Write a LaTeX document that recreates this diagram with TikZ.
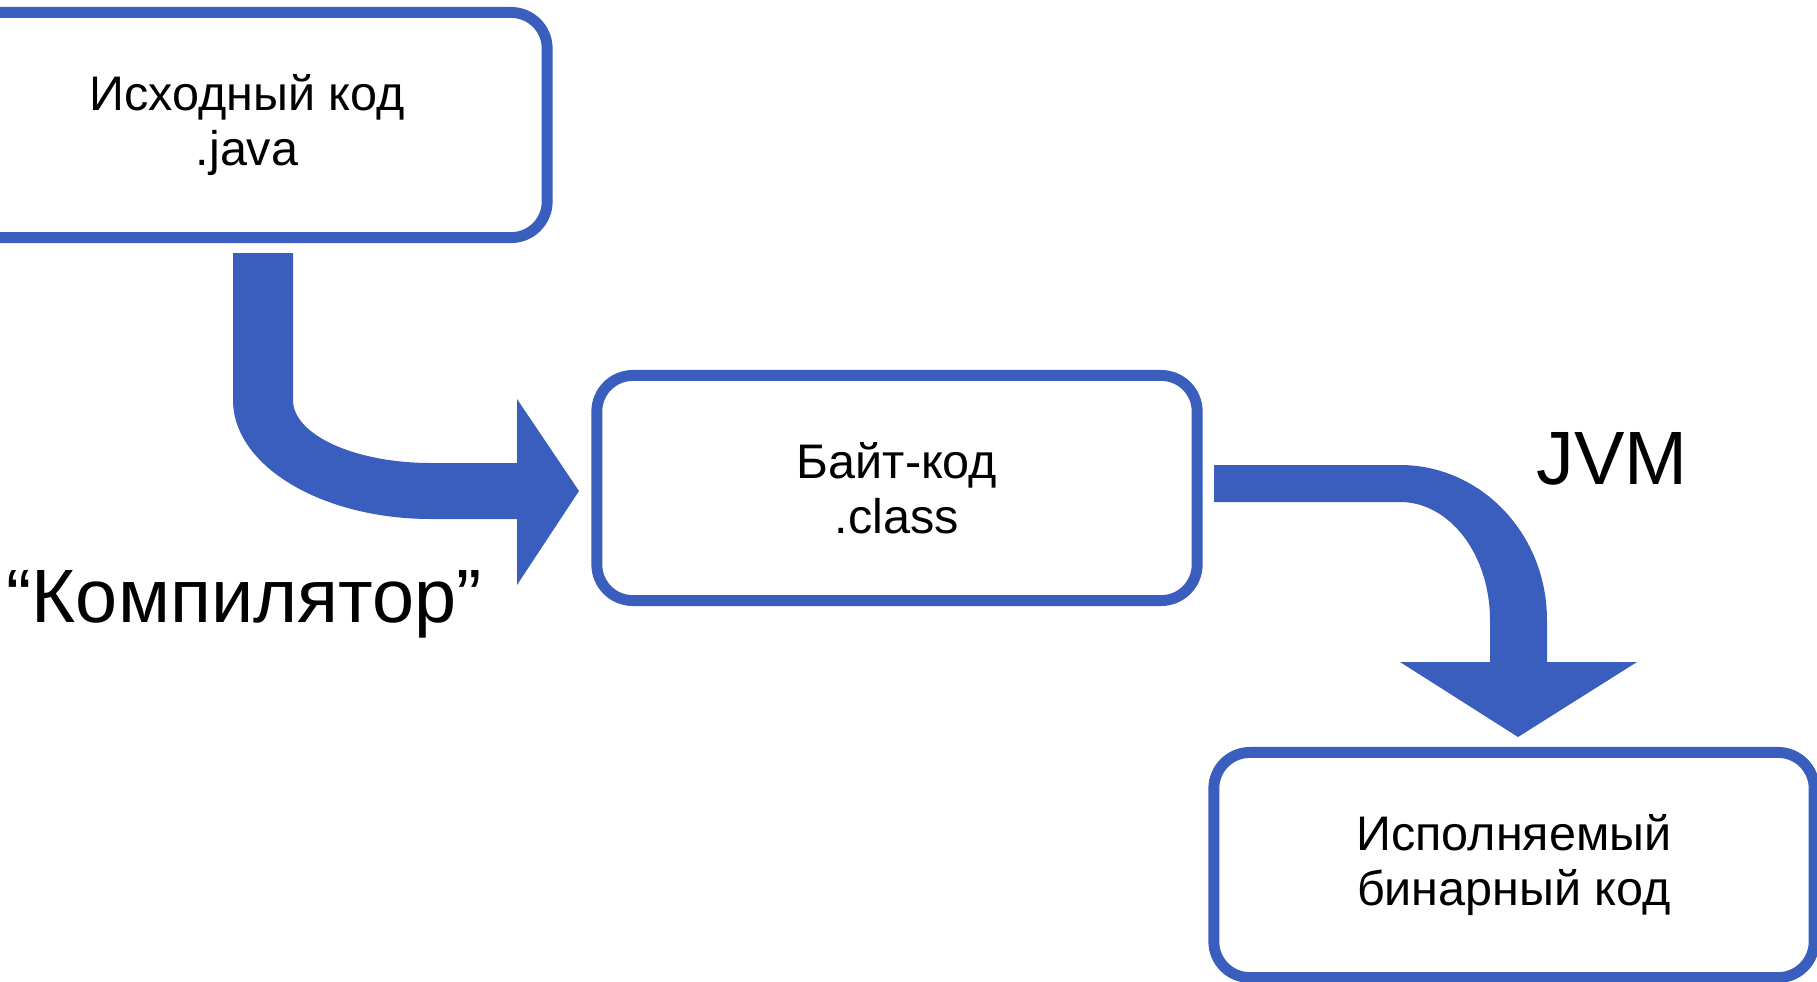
\documentclass[tikz,border=0pt]{standalone}
\usepackage{fontspec}
\setmainfont{Liberation Sans}
\usepackage{tikz}
\usetikzlibrary{positioning}

\definecolor{flowblue}{RGB}{58,94,189}

\tikzset{
  box/.style={draw=flowblue, line width=3.1pt, rounded corners=0.36cm,
    minimum width=6.0cm, minimum height=2.25cm, align=center, fill=white,
    font=\fontsize{13.8}{15.6}\selectfont},
  bigarrow/.style={fill=flowblue, draw=none},
  biglabel/.style={font=\fontsize{21.5}{24}\selectfont, anchor=base}
}

\begin{document}
\begin{tikzpicture}[x=0.01cm, y=-0.01cm]
\useasboundingbox (0,0) rectangle (1817,981);

% boxes
\node[box] (source) at (247,125) {Исходный код\\.java};
\node[box] (bytecode) at (897,488) {Байт-код\\.class};
\node[box] (binary) at (1514,865) {Исполняемый\\бинарный код};

% compiler arrow
\fill[bigarrow] (233,253) -- (233,400)
  .. controls (233,466) and (322,519) .. (431,519)
  -- (517,519) -- (517,585) -- (579,491) -- (517,399) -- (517,463)
  -- (431,463) .. controls (355,463) and (293,435) .. (293,400)
  -- (293,253) -- cycle;

% jvm arrow
\fill[bigarrow] (1214,465) -- (1400,465)
  .. controls (1481,465) and (1547,534) .. (1547,620)
  -- (1547,662) -- (1637,662) -- (1518,737) -- (1400,662) -- (1490,662)
  -- (1490,620) .. controls (1490,555) and (1450,502) .. (1400,502)
  -- (1214,502) -- cycle;

% labels
\node[biglabel] (compiler) at (244,622) {“Компилятор”};
\node[biglabel] (jvm) at (1612,484) {JVM};
\end{tikzpicture}
\end{document}
